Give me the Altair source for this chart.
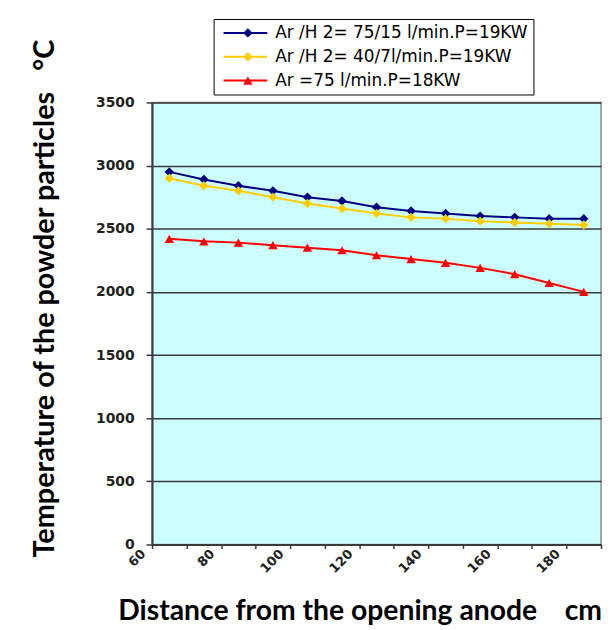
import altair as alt
import pandas as pd

# ---- data ----
distance = [65, 75, 85, 95, 105, 115, 125, 135, 145, 155, 165, 175, 185]
series_names = [
    "Ar /H 2= 75/15 l/min.P=19KW",
    "Ar /H 2= 40/7l/min.P=19KW",
    "Ar =75 l/min.P=18KW",
]
temp_ar_h2_75_15 = [2950, 2890, 2840, 2800, 2750, 2720, 2670, 2640, 2620, 2600, 2590, 2580, 2580]
temp_ar_h2_40_7 = [2900, 2840, 2800, 2750, 2700, 2660, 2620, 2590, 2580, 2560, 2550, 2540, 2530]
temp_ar_75 = [2420, 2400, 2390, 2370, 2350, 2330, 2290, 2260, 2230, 2190, 2140, 2070, 2000]
series_colors = ["#000080", "#FFCC00", "#FF0000"]
series_shapes = ["diamond", "diamond", "triangle-up"]
y_ticks = [0, 500, 1000, 1500, 2000, 2500, 3000, 3500]
x_ticks = [60, 70, 80, 90, 100, 110, 120, 130, 140, 150, 160, 170, 180, 190]

NB = "\u00a0"
x_title = "Distance from the opening anode" + NB * 4 + "cm"
y_title = "Temperature of the powder particles" + NB * 3 + "°C"

rows = []
for i, (name, vals) in enumerate(zip(series_names, [temp_ar_h2_75_15, temp_ar_h2_40_7, temp_ar_75])):
    for d, v in zip(distance, vals):
        rows.append({"series": name, "order": i, "distance": d, "temp": v})
df = pd.DataFrame(rows)

x_enc = alt.X(
    "distance:Q",
    scale=alt.Scale(domain=[60, 190], nice=False, zero=False),
    axis=alt.Axis(
        values=x_ticks,
        labelExpr="datum.value % 20 == 0 && datum.value < 190 ? datum.label : ''",
        grid=False,
        domainColor="#3a3a3a", domainWidth=2,
        tickColor="#3a3a3a", tickSize=4, tickWidth=1.5,
        labelAngle=-45, labelAlign="right", labelBaseline="middle",
        labelOffset=-9, labelPadding=3,
        labelFont="DejaVu Sans", labelFontWeight="bold", labelFontSize=13,
        labelColor="#222222",
        title=x_title,
        titleFont="Lato", titleFontSize=28.5, titleFontWeight="bold", titleColor="black",
        titleX=209, titleY=67, titleBaseline="middle", titleAlign="center",
    ),
)
y_enc = alt.Y(
    "temp:Q",
    scale=alt.Scale(domain=[0, 3500], nice=False, zero=True),
    axis=alt.Axis(
        values=y_ticks, format="d",
        grid=True, gridColor="#3a3a3a", gridWidth=1.5,
        domainColor="#3a3a3a", domainWidth=2,
        tickColor="#3a3a3a", tickSize=6, tickWidth=1.5,
        labelFont="DejaVu Sans", labelFontWeight="bold", labelFontSize=14,
        labelColor="#222222", labelPadding=12,
        title=y_title,
        titleFont="Lato", titleFontSize=29, titleFontWeight="bold", titleColor="black",
        titleX=-108, titleY=197, titleBaseline="middle", titleAlign="center",
    ),
)

legend_common = dict(
    orient="none", legendX=62, legendY=-84, title=None,
    clipHeight=18, labelFont="DejaVu Sans", labelFontSize=17,
    labelLimit=600, padding=5, rowPadding=6,
)

lines = alt.Chart(df).mark_line(strokeWidth=2).encode(
    x=x_enc,
    y=y_enc,
    color=alt.Color(
        "series:N",
        scale=alt.Scale(domain=series_names, range=series_colors),
        legend=alt.Legend(
            symbolType="stroke", symbolSize=1936, symbolStrokeWidth=2,
            symbolOffset=4, labelOffset=7, labelColor="black",
            fillColor="white", strokeColor="black",
            **legend_common,
        ),
    ),
)

shape_sort = alt.EncodingSortField(field="order", op="min")
marker_legend = alt.Legend(
    symbolOffset=21, symbolSize=90, labelOffset=7,
    labelExpr="''",
    **legend_common,
)

points = alt.Chart(df).mark_point(filled=True, size=90, opacity=1).encode(
    x=x_enc,
    y=y_enc,
    fill=alt.Fill(
        "series:N", sort=shape_sort,
        scale=alt.Scale(range=series_colors),
        legend=marker_legend,
    ),
    shape=alt.Shape(
        "series:N", sort=shape_sort,
        scale=alt.Scale(range=series_shapes),
        legend=marker_legend,
    ),
)

chart = alt.layer(lines, points).properties(
    width=452, height=445,
    autosize=alt.AutoSizeParams(type="none"),
    padding={"left": 145, "top": 93, "right": 2, "bottom": 80},
).configure_view(
    fill="#CCFFFF", stroke="#8c8c8c", strokeWidth=1.5
)

chart.save("out.html", embed_options={"renderer": "svg", "actions": False})
